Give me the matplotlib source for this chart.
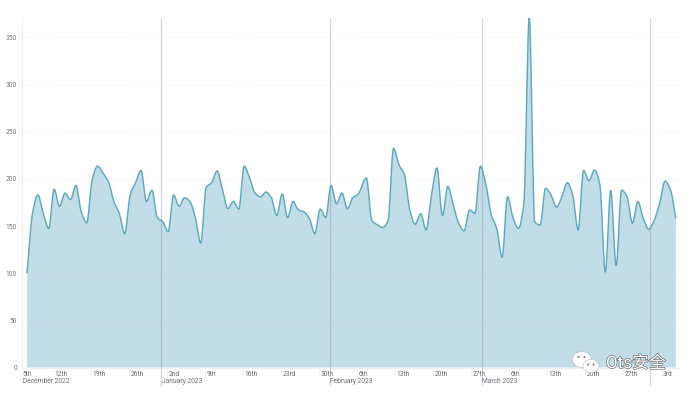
import numpy as np
import datetime as dt
import matplotlib
matplotlib.use("Agg")
import matplotlib.pyplot as plt
import matplotlib.dates as mdates
import matplotlib.patheffects as pe
from matplotlib.path import Path
from matplotlib.patches import PathPatch, Ellipse
from matplotlib.transforms import blended_transform_factory

plt.rcParams['font.family'] = ['Roboto', 'Noto Sans CJK SC', 'DejaVu Sans']

# daily event counts, early segment (whole days after the first sample)
values_a = [100,163,183,163.5,147.5,189,171,185,178,193,165,153.5,199,213.5,206,197,176,163.5,142,183,
            196,209,176,188,159,154.6,144,183,171,180,176,159,132,191,196,208.5,188.5,168.5,176,168,
            213.5,201,185,181,186,180,161,184,159,176,167,165,158,142,168,159,193,173.5,185,168.5,
            180,184]
# later segment (samples sit half a day later on the axis)
values_b = [201,156,151.5,148.5,156,232.5,215,204.5,167,152,163,146,183,211.5,161,192,172.5,153,145,167,
            163.5,213.5,194,162,147.5,117,181,159,147.5,174,371,154.6,151,190,183,170,181,196,183,146,
            209,198,209.5,194,101,188,108,188,181,153,176,158,146.5,156,174,197.5,188.5,158]
start = dt.datetime(2022, 12, 7, 5)
offsets = list(range(len(values_a))) + [62.5 + k for k in range(len(values_b))]
dates = [start + dt.timedelta(days=o) for o in offsets]
values = values_a + values_b

tick_dates = ["2022-12-12","2022-12-19","2022-12-26","2023-01-02","2023-01-09","2023-01-16","2023-01-23",
              "2023-01-30","2023-02-06","2023-02-13","2023-02-20","2023-02-27","2023-03-06","2023-03-13",
              "2023-03-20","2023-03-27","2023-04-03"]
tick_labels = ["12th","19th","26th","2nd","9th","16th","23rd","30th","6th","13th","20th","27th","6th","13th","20th","27th","3rd"]
month_dates = ["2023-01-01","2023-02-01","2023-03-01","2023-04-01"]
month_labels = ["January 2023","February 2023","March 2023"]
y_ticks = [0,50,100,150,200,250,300,350]

W, H = 688, 393
fig = plt.figure(figsize=(W/100, H/100), dpi=100)
L, R, T, B = 22, 680, 18, 367.5
ax = fig.add_axes([L/W, 1-B/H, (R-L)/W, (B-T)/H])
x = mdates.date2num(dates)
y = np.array(values, float)
x_left = x[0] - 5/5.43
x_right = x[0] + (R-27)/5.43
ax.set_xlim(x_left, x_right)
ax.set_ylim(0, 370.6)

# smooth monotone curve through the samples, drawn as Bezier segments
sl = np.diff(y) / np.diff(x)
dy = np.zeros_like(y)
dy[0], dy[-1] = sl[0], sl[-1]
for i in range(1, len(y)-1):
    if sl[i-1]*sl[i] > 0:
        dy[i] = 2*sl[i-1]*sl[i]/(sl[i-1]+sl[i])
verts = [(x[0], y[0])]
codes = [Path.MOVETO]
for i in range(len(x)-1):
    h = x[i+1]-x[i]
    verts += [(x[i]+h/3, y[i]+dy[i]*h/3), (x[i+1]-h/3, y[i+1]-dy[i+1]*h/3), (x[i+1], y[i+1])]
    codes += [Path.CURVE4]*3
line_path = Path(verts, codes)
fill_path = Path(verts + [(x[-1], 0), (x[0], 0), (x[0], y[0])], codes + [Path.LINETO, Path.LINETO, Path.CLOSEPOLY])
ax.add_patch(PathPatch(fill_path, fc='#c1dde8', ec='none', zorder=2))
ax.add_patch(PathPatch(line_path, fc='none', ec='#5fa9c0', lw=1.05, zorder=4))

for v in y_ticks[1:]:
    ax.axhline(v, color='#8f9aa3', alpha=0.18, lw=0.6, dashes=(1.5, 3.5), zorder=3)

for s in ['top', 'right']:
    ax.spines[s].set_visible(False)
for s in ['left', 'bottom']:
    ax.spines[s].set_color('#f0f0f0')
    ax.spines[s].set_linewidth(0.8)

ax.set_yticks(y_ticks)
ax.tick_params(axis='y', length=0, pad=3.6, labelsize=4.8, labelcolor='#70757c')
ax.set_xticks([])

tr = blended_transform_factory(ax.transData, fig.transFigure)
def ypx(p):
    return 1 - p/H
tick_x = [mdates.date2num(dt.datetime.fromisoformat(d)) - 1/24 for d in tick_dates]
txt = dict(transform=tr, color='#666b72', fontsize=4.8, ha='left', va='center', clip_on=False)
fig.add_artist(plt.Line2D([x_left, x_left], [ypx(B), ypx(377)], transform=tr, color='#f0f0f0', lw=0.6))
ax.text(x_left+0.1, ypx(374.3), "5th", **txt)
ax.text(x_left+0.1, ypx(381.7), "December 2022", **txt)
for tx, lab in zip(tick_x, tick_labels):
    fig.add_artist(plt.Line2D([tx, tx], [ypx(B), ypx(377)], transform=tr, color='#f0f0f0', lw=0.6))
    ax.text(tx+0.3, ypx(374.3), lab, **txt)
for k, d in enumerate(month_dates):
    mx = mdates.date2num(dt.datetime.fromisoformat(d)) - 1/24
    fig.add_artist(plt.Line2D([mx, mx], [ypx(T), ypx(385)], transform=tr, color='#8a939b', alpha=0.38, lw=0.9, zorder=5))
    if k < len(month_labels):
        ax.text(mx+0.1, ypx(381.7), month_labels[k], **txt)

# watermark
px = fig.transFigure
def bub(cx, cy, w, h, z):
    fig.add_artist(Ellipse((cx/W, 1-cy/H), w/W, h/H, transform=px, fc='white', ec='#b5bcc2', lw=0.4, zorder=z))
bub(582, 359.5, 19, 16, 8)
bub(591, 366, 16, 13, 9)
for cx, cy in [(578.5, 357), (584.5, 357), (588, 364.5), (593.5, 364.5)]:
    fig.add_artist(Ellipse((cx/W, 1-cy/H), 2/W, 2/H, transform=px, fc='#777777', ec='none', zorder=10))
fig.text(606/W, 1-363/H, "Ots安全", fontsize=12.2, color='white', ha='left', va='center', zorder=11,
         path_effects=[pe.withStroke(linewidth=0.9, foreground='#666666')])

fig.savefig("out.png", dpi=100, facecolor='white')
